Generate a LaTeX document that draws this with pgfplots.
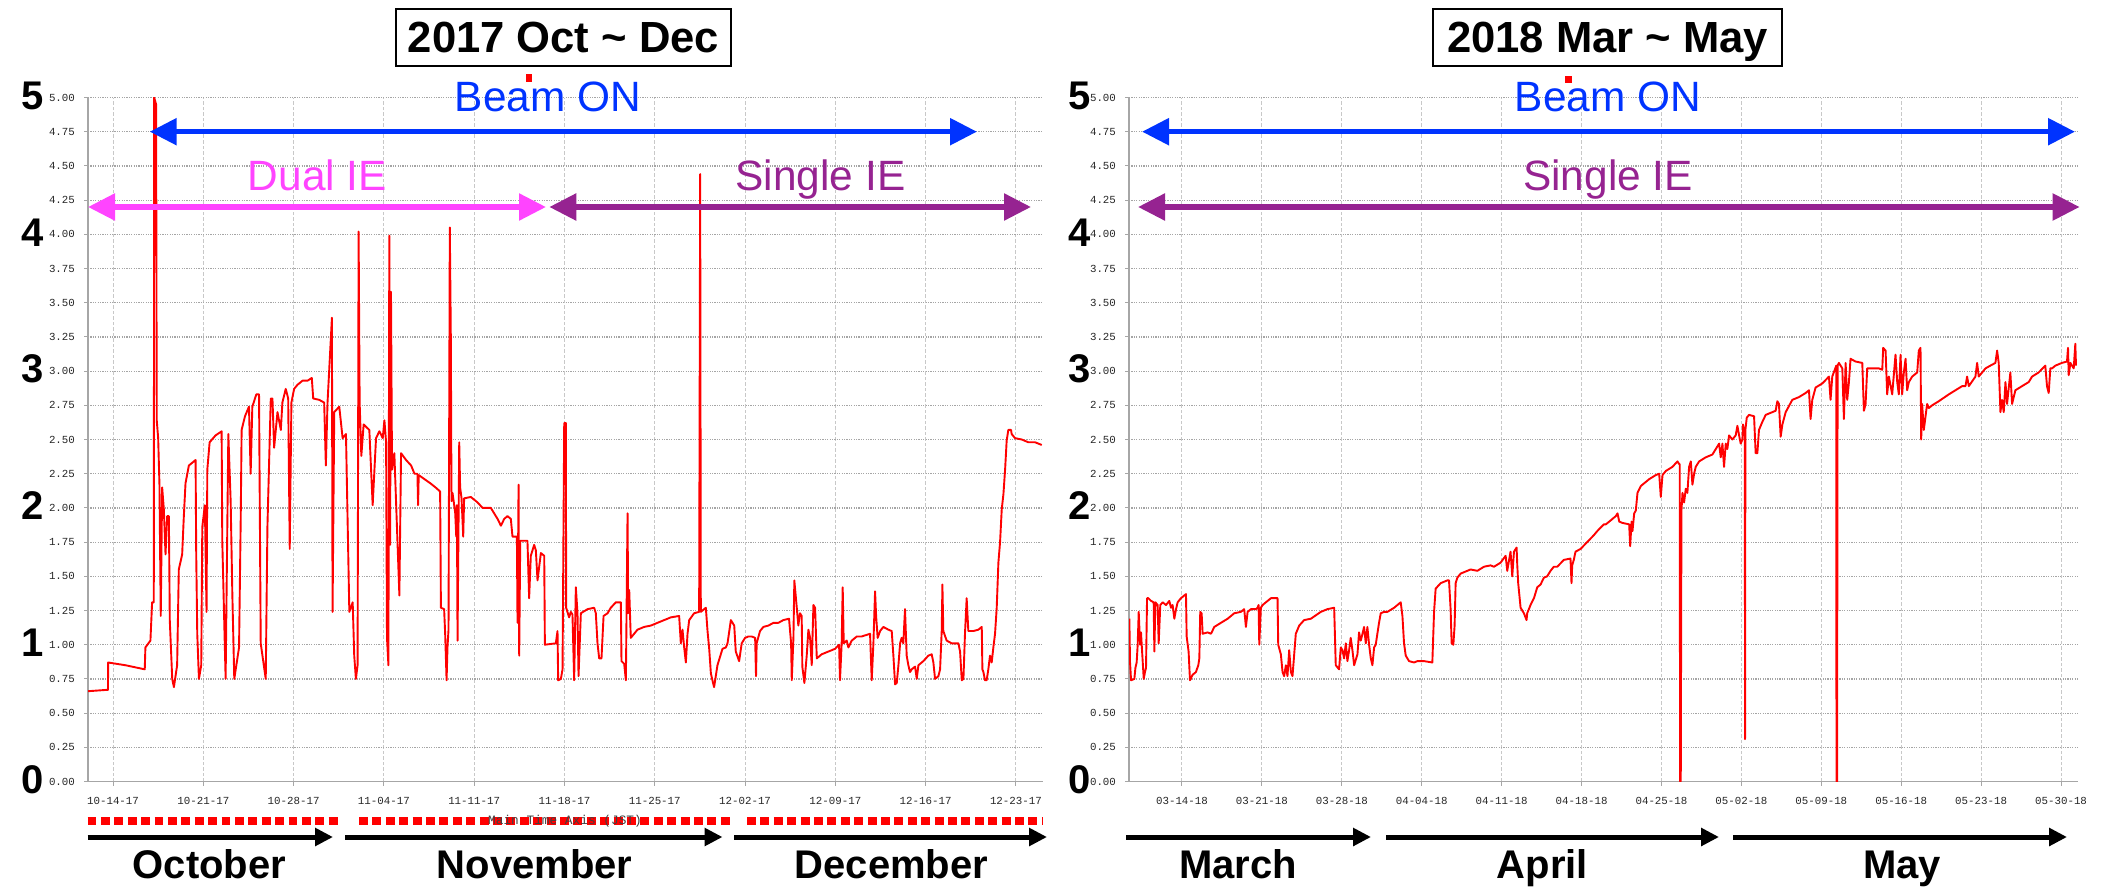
\documentclass[border=0pt]{standalone}
\usepackage{fontspec}
\setmainfont{Liberation Sans}
\newfontfamily\monof{Liberation Mono}
\usepackage{pgfplots}
\pgfplotsset{compat=1.18}
\usetikzlibrary{arrows.meta}
\definecolor{beamblue}{RGB}{0,51,255}
\definecolor{dualmag}{RGB}{255,68,255}
\definecolor{singpur}{RGB}{150,35,145}
\definecolor{gridh}{RGB}{165,165,165}
\definecolor{gridv}{RGB}{200,200,200}
\pgfplotsset{
  mypanel/.style={
    scale only axis, height=342pt, anchor=south west,
    ymin=0, ymax=5,
    axis x line*=bottom, axis y line*=left,
    axis line style={gray!70, line width=0.8pt},
    ytick={0,0.25,...,5},
    /pgf/number format/assume math mode=true,
    yticklabel style={font=\monof\fontsize{5.4pt}{6pt}\selectfont, text=black!85, xshift=-1pt,
      /pgf/number format/.cd, fixed, fixed zerofill, precision=2},
    xticklabel style={font=\monof\fontsize{5.4pt}{6pt}\selectfont, text=black!85, yshift=-2.5pt},
    tick align=outside, major tick length=2pt,
    tick style={gray!70, line width=0.5pt},
    grid=major,
    x grid style={gridv, line width=0.5pt, dash pattern=on 1.75pt off 1pt},
    y grid style={gridh, line width=0.6pt, dash pattern=on 0.6pt off 0.6pt},
  },
  dataline/.style={red, line width=0.95pt, line join=round, mark=none},
}
\begin{document}
\begin{tikzpicture}
\useasboundingbox (0pt,-444pt) rectangle (1051.5pt,0pt);
% ---------------- left panel ----------------
\begin{axis}[mypanel, at={(44pt,-390.75pt)}, width=477.5pt,
  xmin=-1.94, xmax=72.1,
  xtick={0,7,14,21,28,35,42,49,56,63,70},
  xticklabels={10-14-17,10-21-17,10-28-17,11-04-17,11-11-17,11-18-17,11-25-17,12-02-17,12-09-17,12-16-17,12-23-17}]
\addplot[dataline] coordinates {
(-1.94,0.66) (-0.47,0.67) (-0.39,0.67) (-0.38,0.87) (0.96,0.85) (2.46,0.82) (2.51,0.98) (2.9,1.03) (3.03,1.31) (3.16,1.31)
(3.19,5.0) (3.34,4.95) (3.39,2.64) (3.5,2.51) (3.6,2.17) (3.7,1.21) (3.81,2.15) (3.94,1.99) (4.07,1.66) (4.2,1.94)
(4.33,1.94) (4.4,1.18) (4.59,0.75) (4.72,0.69) (4.97,0.85) (5.1,1.55) (5.36,1.66) (5.49,1.94) (5.62,2.18) (5.88,2.31)
(6.4,2.35) (6.45,1.66) (6.53,1.08) (6.66,0.75) (6.84,0.85) (6.92,1.86) (7.12,2.02) (7.25,1.24) (7.31,2.28) (7.49,2.48)
(7.95,2.53) (8.42,2.56) (8.47,1.76) (8.73,0.75) (8.94,2.54) (9.12,2.05) (9.25,1.37) (9.4,0.75) (9.77,0.98) (9.9,1.92)
(9.97,2.57) (10.23,2.67) (10.54,2.74) (10.67,2.25) (10.8,2.74) (11.11,2.83) (11.32,2.83) (11.45,1.01) (11.84,0.75) (11.97,1.86)
(12.23,2.8) (12.36,2.8) (12.49,2.44) (12.75,2.7) (13.01,2.57) (13.13,2.77) (13.39,2.87) (13.58,2.8) (13.7,1.7) (13.83,2.77)
(14.04,2.87) (14.3,2.9) (14.69,2.93) (15.08,2.93) (15.41,2.95) (15.52,2.8) (15.98,2.79) (16.37,2.77) (16.5,2.31) (16.63,2.77)
(16.97,3.39) (17.02,1.24) (17.15,2.7) (17.54,2.74) (17.8,2.51) (18.06,2.54) (18.32,1.24) (18.58,1.31) (18.7,0.92) (18.83,0.75)
(18.96,0.85) (19.04,4.02) (19.12,2.77) (19.25,2.38) (19.43,2.61) (19.87,2.57) (20.13,2.02) (20.39,2.51) (20.65,2.56) (20.91,2.51)
(21.04,2.64) (21.17,2.48) (21.24,1.05) (21.35,0.85) (21.42,3.99) (21.48,1.73) (21.55,3.58) (21.63,2.28) (21.81,2.4) (22.2,1.36)
(22.33,2.4) (22.72,2.35) (23.11,2.31) (23.37,2.25) (23.6,2.25) (23.65,2.02) (23.7,2.24) (24.0,2.22) (24.3,2.2) (24.6,2.18)
(25.0,2.15) (25.36,2.12) (25.37,1.96) (25.42,1.27) (25.67,1.26) (25.75,1.08) (25.86,0.74) (25.93,0.98) (26.01,1.11) (26.11,4.05)
(26.19,3.24) (26.24,2.05) (26.32,2.11) (26.45,2.02) (26.53,1.96) (26.61,1.79) (26.66,2.02) (26.71,1.03) (26.84,2.48) (26.91,2.15)
(27.02,2.07) (27.15,1.79) (27.22,2.07) (27.74,2.08) (28.26,2.04) (28.65,2.0) (29.29,2.0) (29.55,1.96) (29.81,1.92) (30.07,1.87)
(30.33,1.92) (30.58,1.94) (30.84,1.92) (30.97,1.79) (31.31,1.79) (31.36,1.16) (31.44,2.17) (31.49,0.92) (31.57,1.76) (32.13,1.76)
(32.26,1.34) (32.39,1.65) (32.65,1.73) (32.78,1.69) (32.91,1.47) (33.17,1.67) (33.43,1.65) (33.48,1.0) (34.33,1.01) (34.46,1.1)
(34.51,0.74) (34.72,0.75) (34.85,0.82) (34.98,2.62) (35.11,2.62) (35.13,1.27) (35.36,1.2) (35.49,1.24) (35.62,1.22) (35.75,0.74)
(35.88,1.42) (36.01,1.23) (36.09,0.77) (36.27,1.23) (36.79,1.26) (37.3,1.27) (37.43,1.23) (37.56,1.01) (37.69,0.9) (37.87,0.9)
(38.03,1.21) (38.34,1.23) (38.59,1.27) (38.98,1.31) (39.37,1.31) (39.42,0.88) (39.63,0.86) (39.76,0.74) (39.89,1.96) (39.94,1.23)
(40.02,1.4) (40.14,1.05) (40.66,1.11) (41.18,1.13) (41.7,1.14) (42.21,1.16) (42.73,1.18) (43.25,1.2) (43.89,1.21) (44.02,1.01)
(44.15,1.11) (44.28,0.98) (44.41,0.87) (44.54,1.08) (44.67,1.18) (45.05,1.23) (45.44,1.24) (45.52,4.44) (45.57,1.24) (45.83,1.26)
(45.96,1.27) (46.09,1.1) (46.22,0.97) (46.35,0.79) (46.47,0.74) (46.6,0.69) (46.86,0.85) (47.25,0.97) (47.51,0.98) (47.64,1.01)
(47.9,1.18) (48.16,1.14) (48.28,0.95) (48.54,0.88) (48.74,1.01) (49.0,1.05) (49.26,1.06) (49.52,1.06) (49.78,1.05) (49.85,0.77)
(49.9,1.01) (50.16,1.1) (50.42,1.13) (50.81,1.14) (51.2,1.16) (51.58,1.16) (51.97,1.18) (52.41,1.19) (52.57,1.01) (52.62,0.74)
(52.75,1.05) (52.82,1.47) (53.01,1.27) (53.13,1.14) (53.26,1.23) (53.39,1.21) (53.44,0.84) (53.6,0.72) (53.78,0.92) (53.91,1.11)
(54.04,1.05) (54.17,0.85) (54.3,1.29) (54.43,1.27) (54.56,0.9) (54.94,0.93) (55.46,0.95) (55.98,0.97) (56.29,1.0) (56.36,0.74)
(56.49,1.01) (56.57,1.42) (56.65,1.01) (56.88,1.03) (57.01,0.98) (57.27,1.03) (57.66,1.06) (58.04,1.06) (58.69,1.08) (58.82,0.74)
(58.95,1.01) (59.08,1.39) (59.16,1.21) (59.28,1.05) (59.47,1.1) (59.72,1.13) (60.11,1.11) (60.37,1.1) (60.5,0.92) (60.63,0.71)
(60.76,0.72) (60.89,0.85) (61.02,1.01) (61.14,1.05) (61.27,1.01) (61.4,1.26) (61.53,0.92) (61.66,0.85) (61.79,0.8) (61.92,0.82)
(62.18,0.84) (62.31,0.75) (62.44,0.85) (62.82,0.88) (63.21,0.92) (63.47,0.93) (63.6,0.87) (63.73,0.75) (63.99,0.77) (64.12,0.82)
(64.25,1.11) (64.3,1.44) (64.37,1.1) (64.63,1.03) (65.02,1.01) (65.54,1.01) (65.67,0.95) (65.8,0.74) (65.93,0.75) (66.05,1.08)
(66.18,1.34) (66.31,1.1) (66.7,1.1) (67.09,1.11) (67.35,1.13) (67.4,0.82) (67.48,0.8) (67.6,0.74) (67.73,0.74) (67.86,0.82)
(67.99,0.92) (68.12,0.87) (68.25,0.98) (68.38,1.08) (68.51,1.27) (68.64,1.6) (68.77,1.75) (68.9,1.99) (69.03,2.1) (69.16,2.28)
(69.23,2.4) (69.28,2.49) (69.41,2.57) (69.62,2.57) (69.67,2.54) (69.93,2.51) (70.45,2.5) (70.96,2.48) (71.48,2.48) (72.0,2.46)
};
\end{axis}
% ---------------- right panel ----------------
\begin{axis}[mypanel, at={(564.5pt,-390.75pt)}, width=474pt,
  xmin=-4.64, xmax=78.4,
  xtick={0,7,14,21,28,35,42,49,56,63,70,77},
  xticklabels={03-14-18,03-21-18,03-28-18,04-04-18,04-11-18,04-18-18,04-25-18,05-02-18,05-09-18,05-16-18,05-23-18,05-30-18}]
\addplot[dataline] coordinates {
(-4.61,1.19) (-4.55,0.87) (-4.46,0.74) (-4.17,0.75) (-4.08,0.83) (-3.97,0.87) (-3.88,1.0) (-3.79,1.24) (-3.67,1.0) (-3.59,1.09)
(-3.5,0.96) (-3.35,0.75) (-3.24,0.8) (-3.15,0.83) (-3.06,1.34) (-2.95,1.34) (-2.71,1.32) (-2.48,1.31) (-2.42,0.95) (-2.33,1.31)
(-2.13,1.29) (-2.04,1.01) (-1.9,1.29) (-1.69,1.31) (-1.4,1.29) (-1.11,1.32) (-0.96,1.27) (-0.82,1.29) (-0.67,1.19) (-0.52,1.26)
(-0.38,1.31) (-0.09,1.34) (0.35,1.37) (0.41,1.06) (0.58,0.95) (0.7,0.74) (0.93,0.78) (1.22,0.8) (1.43,0.85) (1.52,0.9)
(1.6,1.24) (1.72,1.23) (1.81,1.08) (2.25,1.09) (2.54,1.08) (2.83,1.13) (3.41,1.16) (4.0,1.19) (4.58,1.23) (5.16,1.24)
(5.45,1.26) (5.6,1.13) (5.75,1.24) (6.04,1.26) (6.47,1.26) (6.62,1.27) (6.71,1.29) (6.77,1.0) (6.91,1.27) (7.06,1.29)
(7.35,1.31) (7.79,1.34) (8.37,1.34) (8.43,1.0) (8.66,0.93) (8.81,0.8) (8.95,0.77) (9.1,0.85) (9.24,0.77) (9.39,0.96)
(9.54,0.8) (9.68,0.77) (9.83,0.93) (9.97,1.08) (10.27,1.14) (10.7,1.18) (11.29,1.19) (12.16,1.24) (12.74,1.26) (13.33,1.27)
(13.47,0.85) (13.76,0.82) (13.91,0.98) (14.06,0.96) (14.2,0.9) (14.35,1.01) (14.49,0.88) (14.64,0.96) (14.78,1.05) (14.93,0.96)
(15.08,0.85) (15.37,0.93) (15.51,1.09) (15.66,1.03) (15.81,1.08) (15.95,1.13) (16.1,1.01) (16.24,1.13) (16.39,1.0) (16.54,0.9)
(16.68,0.85) (16.83,0.98) (16.97,1.0) (17.26,1.16) (17.41,1.23) (17.7,1.24) (17.99,1.24) (18.58,1.27) (19.16,1.31) (19.31,1.21)
(19.45,1.01) (19.6,0.92) (19.89,0.88) (20.33,0.87) (20.62,0.88) (21.2,0.88) (21.93,0.87) (22.08,1.24) (22.22,1.41) (22.66,1.45)
(23.24,1.47) (23.39,1.47) (23.53,1.26) (23.62,1.01) (23.77,1.0) (23.88,1.14) (23.97,1.45) (24.12,1.49) (24.41,1.52) (25.28,1.55)
(25.87,1.54) (26.45,1.57) (27.03,1.58) (27.33,1.57) (27.91,1.6) (28.35,1.65) (28.49,1.54) (28.78,1.68) (28.93,1.5) (29.08,1.68)
(29.31,1.71) (29.37,1.58) (29.45,1.45) (29.66,1.27) (29.95,1.23) (30.18,1.18) (30.24,1.23) (30.53,1.29) (30.83,1.34) (31.12,1.42)
(31.41,1.44) (31.7,1.49) (31.99,1.5) (32.28,1.54) (32.57,1.57) (32.87,1.57) (33.45,1.62) (34.03,1.63) (34.12,1.45) (34.18,1.58)
(34.32,1.62) (34.47,1.68) (34.91,1.7) (35.49,1.75) (36.07,1.8) (36.37,1.83) (36.95,1.88) (37.13,1.88) (37.57,1.91) (38.0,1.94)
(38.15,1.96) (38.3,1.90) (38.59,1.89) (39.17,1.88) (39.26,1.72) (39.38,1.90) (39.46,1.83) (39.61,1.96) (39.75,1.98) (39.9,2.11)
(40.19,2.16) (40.63,2.19) (40.92,2.21) (41.5,2.24) (41.8,2.25) (41.94,2.08) (42.09,2.24) (42.38,2.27) (42.96,2.30) (43.4,2.34)
(43.55,2.32) (43.6,2.32) (43.63,0.0) (43.69,0.0) (43.75,1.98) (43.84,2.11) (43.98,2.04) (44.13,2.14) (44.27,2.11) (44.42,2.30)
(44.57,2.34) (44.71,2.17) (44.86,2.25) (45.0,2.30) (45.3,2.34) (45.88,2.37) (46.46,2.39) (47.05,2.47) (47.19,2.37) (47.34,2.47)
(47.48,2.30) (47.63,2.47) (47.77,2.43) (47.92,2.53) (48.21,2.5) (48.5,2.53) (48.65,2.6) (48.8,2.53) (48.94,2.47) (49.09,2.5)
(49.14,2.61) (49.23,2.57) (49.3,2.57) (49.32,0.31) (49.35,2.57) (49.47,2.66) (49.67,2.68) (50.11,2.67) (50.25,2.40) (50.4,2.40)
(50.54,2.57) (50.84,2.63) (51.13,2.68) (51.71,2.70) (52.0,2.71) (52.15,2.78) (52.29,2.76) (52.44,2.52) (52.59,2.61) (52.88,2.70)
(53.46,2.79) (54.04,2.81) (54.63,2.84) (54.92,2.86) (55.06,2.65) (55.21,2.79) (55.5,2.88) (56.09,2.91) (56.67,2.96) (56.81,2.79)
(56.96,2.96) (57.31,3.04) (57.33,0.0) (57.38,0.0) (57.43,3.04) (57.54,3.06) (57.84,3.02) (57.98,2.65) (58.13,3.06) (58.27,2.79)
(58.42,2.92) (58.56,3.09) (59.0,3.07) (59.59,3.06) (59.73,2.71) (59.88,2.76) (60.02,3.02) (60.46,3.02) (61.04,3.02) (61.34,3.01)
(61.42,3.17) (61.63,3.15) (61.77,2.83) (61.92,2.96) (62.21,2.83) (62.5,3.12) (62.65,2.92) (62.79,2.83) (62.94,3.12) (63.08,2.83)
(63.23,2.99) (63.38,3.09) (63.52,2.86) (63.67,2.92) (63.96,2.96) (64.4,2.99) (64.54,3.15) (64.69,3.17) (64.75,2.5) (64.83,2.76)
(64.98,2.57) (65.13,2.67) (65.27,2.76) (65.42,2.73) (65.71,2.75) (66.29,2.78) (67.17,2.83) (67.75,2.86) (68.33,2.89) (68.63,2.89)
(68.77,2.96) (68.92,2.89) (69.5,2.96) (69.65,3.06) (69.79,2.96) (70.38,3.02) (70.81,3.04) (71.25,3.06) (71.4,3.15) (71.54,3.06)
(71.69,2.70) (71.83,2.79) (71.98,2.70) (72.13,2.92) (72.27,2.76) (72.56,2.99) (72.71,2.76) (73.0,2.86) (73.58,2.89) (74.17,2.92)
(74.46,2.96) (75.04,2.99) (75.62,3.04) (75.77,2.89) (75.92,2.84) (76.06,3.02) (76.21,3.02) (76.5,3.04) (77.08,3.06) (77.52,3.07)
(77.61,3.17) (77.67,2.97) (77.82,3.06) (78.11,3.02) (78.25,3.2) (78.31,3.04)
};
\end{axis}
% ---------------- decorations (pixel coordinates) ----------------
\begin{scope}[x=0.5pt,y=-0.5pt]
% titles
\node[draw=black, line width=1pt, minimum width=167.2pt, minimum height=28.2pt, inner sep=0pt, text depth=0pt,
  font=\bfseries\fontsize{21.8pt}{24pt}\selectfont] at (563.5,37.5) {2017 Oct \char`~{} Dec};
\node[draw=black, line width=1pt, minimum width=174.5pt, minimum height=28.2pt, inner sep=0pt, text depth=0pt,
  font=\bfseries\fontsize{21.8pt}{24pt}\selectfont] at (1607.7,37.5) {2018 Mar \char`~{} May};
% big axis digits
\foreach \k/\py in {0/781.5,1/644.7,2/507.9,3/371.1,4/234.3,5/97.5}{
  \node[font=\bfseries\fontsize{20pt}{22pt}\selectfont, inner sep=0pt] at (33,\py-2) {\k};
  \node[font=\bfseries\fontsize{20pt}{22pt}\selectfont, inner sep=0pt] at (1079.5,\py-2) {\k};
}
% red markers
\fill[red] (526,74) rectangle (532,82);
\fill[red] (1565,76) rectangle (1572,83);
% annotations
\node[anchor=base, text=beamblue, font=\fontsize{21.2pt}{24pt}\selectfont, inner sep=0pt] at (548,112) {Beam ON};
\node[anchor=base, text=beamblue, font=\fontsize{21.2pt}{24pt}\selectfont, inner sep=0pt] at (1608,112) {Beam ON};
\node[anchor=base, text=dualmag, font=\fontsize{21.2pt}{24pt}\selectfont, inner sep=0pt] at (317.5,190) {Dual IE};
\node[anchor=base, text=singpur, font=\fontsize{21.2pt}{24pt}\selectfont, inner sep=0pt] at (820.5,190) {Single IE};
\node[anchor=base, text=singpur, font=\fontsize{21.2pt}{24pt}\selectfont, inner sep=0pt] at (1608,190) {Single IE};
% colored arrows
\tikzset{carrow/.style={line width=2.75pt, {Triangle[length=13.5pt,width=13pt]}-{Triangle[length=13.5pt,width=13pt]}}}
\draw[carrow, beamblue] (149.7,131.7) -- (977,131.7);
\draw[carrow, beamblue] (1142,131.7) -- (2075,131.7);
\draw[carrow, dualmag] (88,207) -- (546,207);
\draw[carrow, singpur] (549.3,207) -- (1031,207);
\draw[carrow, singpur] (1138,207) -- (2079.6,207);
% red dashed line and axis title
\foreach \a/\b in {87.5/342,359/730,747/1043}{
  \draw[red, line width=3.85pt, dash pattern=on 4.45pt off 2.25pt] (\a,821) -- (\b,821);
}
\node[font=\monof\fontsize{6.4pt}{7pt}\selectfont, text=black!75, inner sep=0pt] at (565,821) {Main Time Axis (JST)};
% month arrows
\tikzset{marrow/.style={black, line width=2.5pt, -{Triangle[length=9pt,width=8.7pt]}}}
\foreach \a/\b in {87.5/333,345/722.5,734/1047,1126/1371,1386/1719,1733/2067}{
  \draw[marrow] (\a,837) -- (\b,837);
}
\foreach \cx/\lab in {209.5/October,534.5/November,891.5/December,1238/March,1542.5/April,1902/May}{
  \node[anchor=base, font=\bfseries\fontsize{20pt}{22pt}\selectfont, inner sep=0pt] at (\cx,878.5) {\lab};
}
\end{scope}
\end{tikzpicture}
\end{document}
